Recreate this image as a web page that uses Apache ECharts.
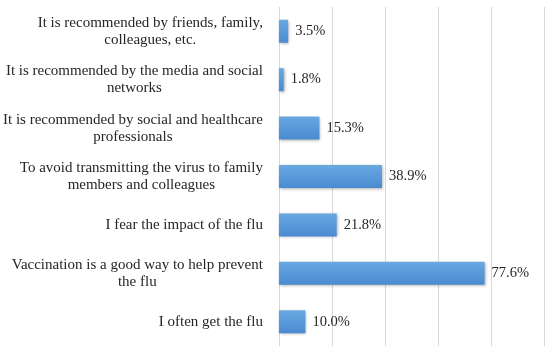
<!DOCTYPE html>
<html>
<head>
<meta charset="utf-8">
<script src="https://cdn.jsdelivr.net/npm/echarts@6/dist/echarts.min.js"></script>
<style>html,body{margin:0;padding:0;background:#fff;}#c{width:550px;height:354px;}</style>
</head>
<body>
<div id="c"></div>
<script>
// Categories listed from bottom to top (ECharts category y-axis starts at bottom)
const categories = [
  "I often get the flu",
  "Vaccination is a good way to help prevent\nthe flu",
  "I fear the impact of the flu",
  "To avoid transmitting the virus to family\nmembers and colleagues",
  "It is recommended by social and healthcare\nprofessionals",
  "It is recommended by the media and social\nnetworks",
  "It is recommended by friends, family,\ncolleagues, etc."
];
const values = [10.0, 77.6, 21.8, 38.9, 15.3, 1.8, 3.5];

const fontFamily = "'Liberation Serif', 'DejaVu Serif', serif";
const fontSize = 15;
const textColor = '#262626';
const lineH = 17;

const chart = echarts.init(document.getElementById('c'), null, {renderer: 'canvas'});
chart.setOption({
  animation: false,
  grid: {left: 278, right: 6, top: 7, bottom: 8, containLabel: false},
  xAxis: {
    type: 'value', min: 0, max: 100, interval: 20,
    axisLabel: {show: false},
    axisLine: {show: false},
    axisTick: {show: false},
    splitLine: {show: true, lineStyle: {color: '#d9d9d9', width: 1}}
  },
  yAxis: {
    type: 'category', data: categories,
    axisLine: {show: false},
    axisTick: {show: false},
    axisLabel: {
      margin: 16, fontFamily, fontSize, color: textColor,
      lineHeight: lineH, align: 'right',
      formatter: v => v.split('\n').map(s => '{c|' + s + '}').join('\n'),
      rich: {c: {align: 'center', fontFamily, fontSize, color: textColor, lineHeight: lineH}}
    }
  },
  series: [{
    type: 'bar', data: values, barWidth: 23,
    itemStyle: {
      color: new echarts.graphic.LinearGradient(0, 0, 0, 1, [
        {offset: 0, color: '#6aa8e2'},
        {offset: 1, color: '#4a8ad0'}
      ]),
      shadowColor: 'rgba(0,0,0,0.35)', shadowBlur: 3, shadowOffsetX: 1, shadowOffsetY: 1
    },
    label: {
      show: true, position: 'right', distance: 7,
      fontFamily, fontSize: 14.5, color: textColor,
      formatter: p => p.value.toFixed(1) + '%'
    }
  }]
});
</script>
</body>
</html>
